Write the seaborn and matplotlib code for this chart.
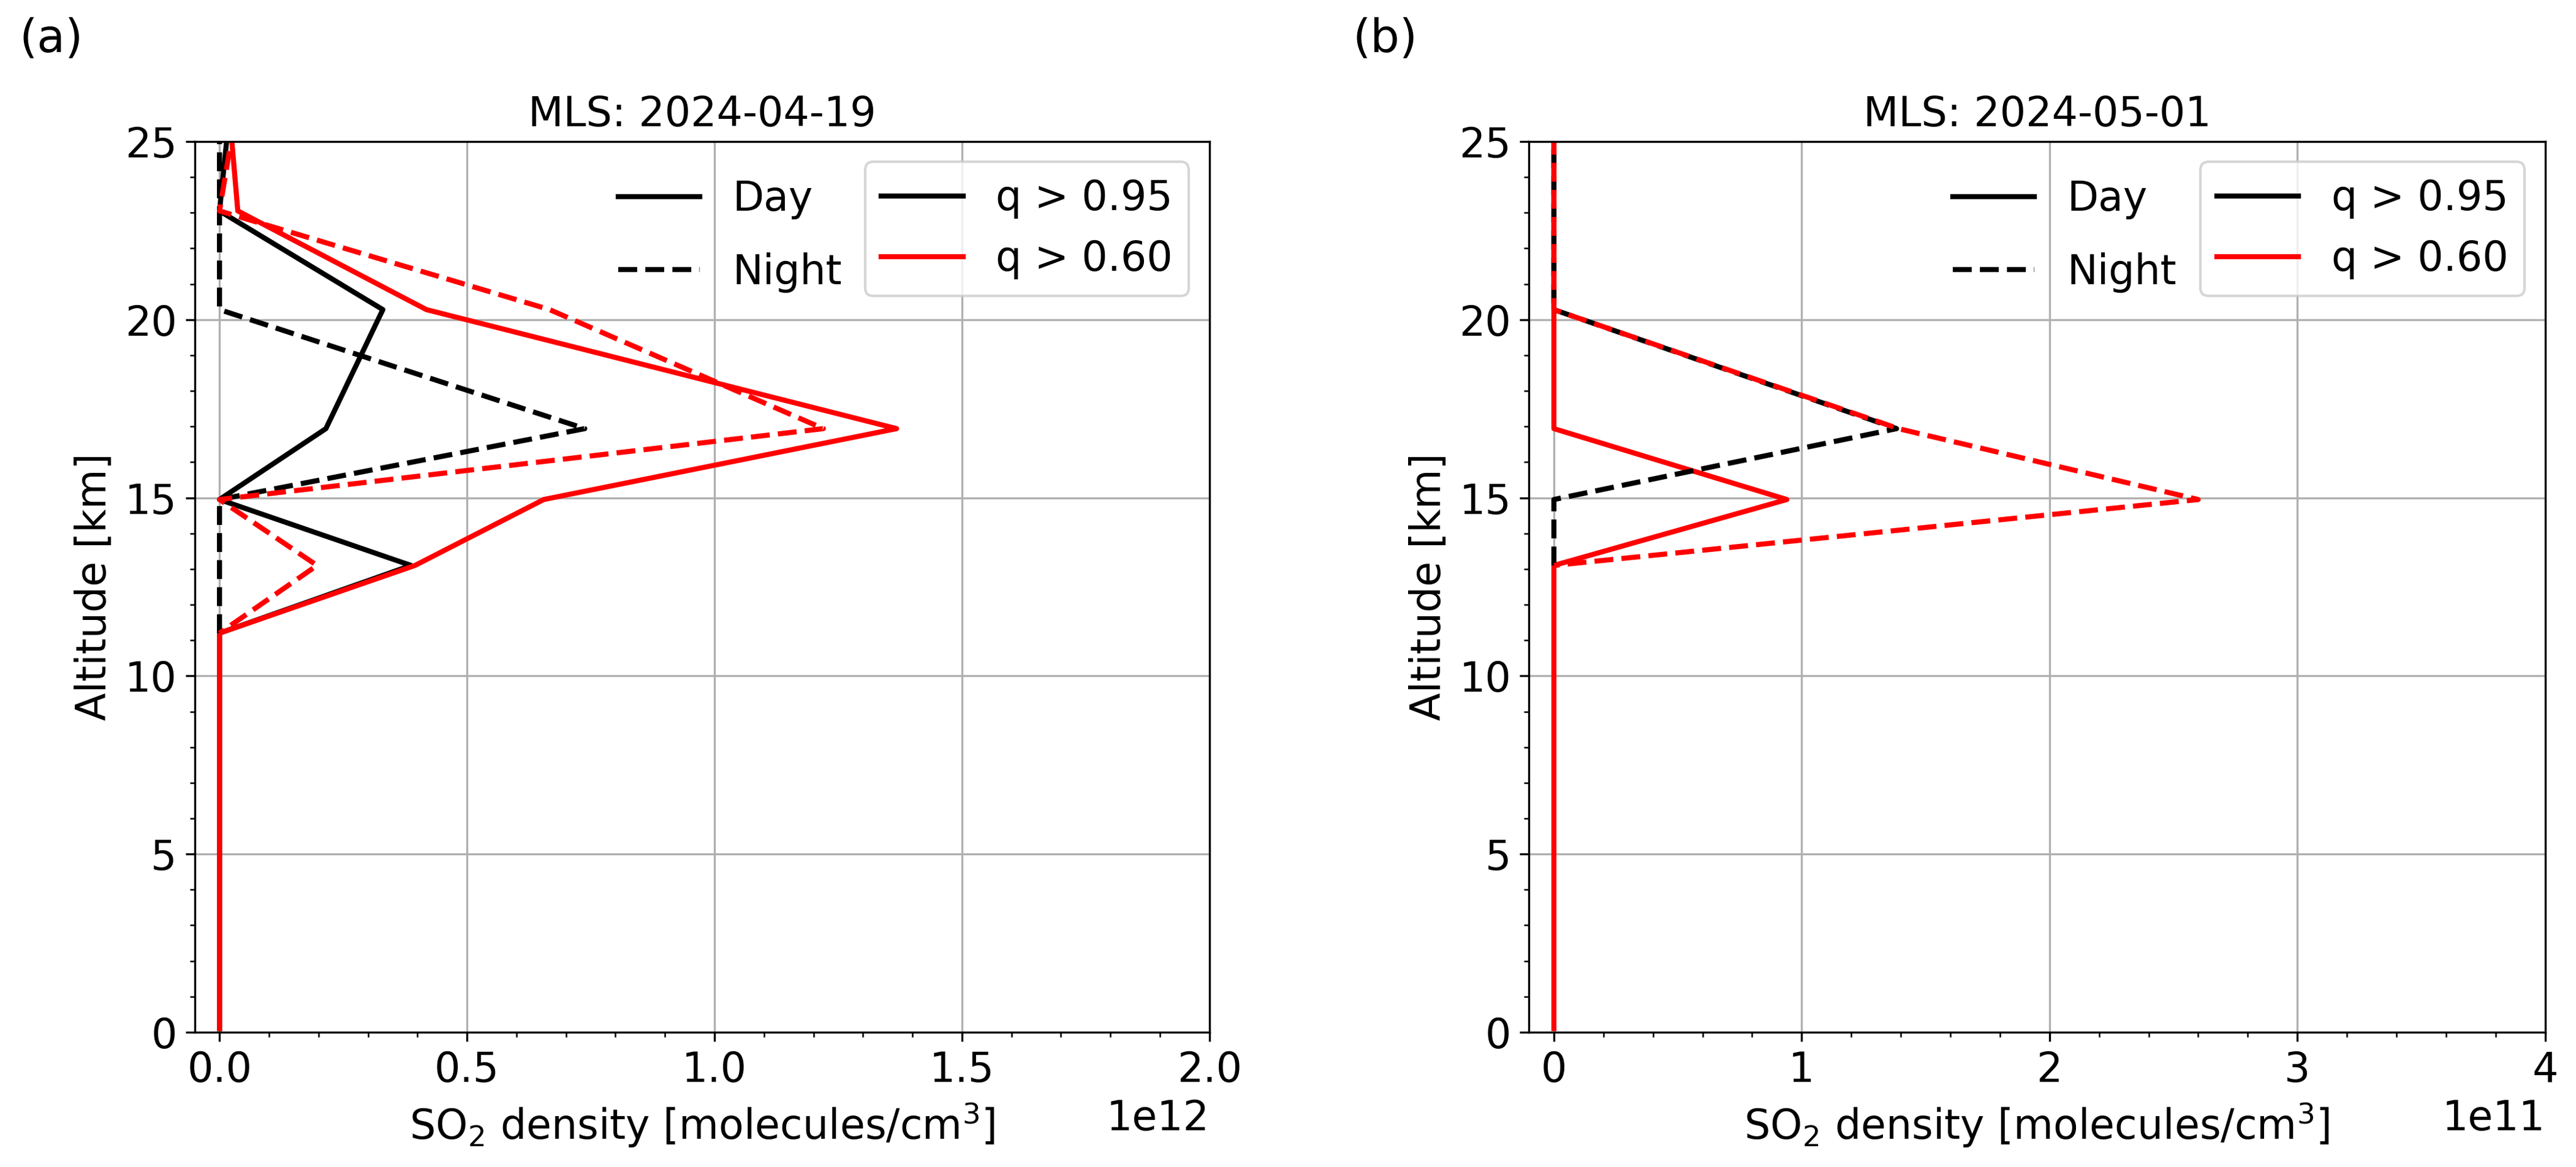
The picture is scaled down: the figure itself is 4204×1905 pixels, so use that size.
import numpy as np
import pandas as pd
import matplotlib
matplotlib.use("Agg")
import matplotlib.pyplot as plt
from matplotlib.lines import Line2D
import seaborn as sns

# altitude levels [km] of the profiles
altitude = [0.1, 11.2, 13.1, 14.95, 16.94, 20.28, 23.05, 25.9]
nan = np.nan

# (a) MLS 2024-04-19, SO2 density [molecules/cm3]
a_day_q95 = [0, 0, 0.387e12, 0, 0.215e12, 0.33e12, 0, 0.021e12]
a_night_q95 = [nan, 0, 0, 0, 0.738e12, 0, 0, 0]
a_day_q60 = [0, 0, 0.395e12, 0.655e12, 1.368e12, 0.418e12, 0.037e12, 0.0195e12]
a_night_q60 = [nan, 0, 0.197e12, 0, 1.22e12, 0.667e12, 0, 0.034e12]

# (b) MLS 2024-05-01 (no day profile passes q > 0.95)
b_day_q95 = [nan, nan, nan, nan, nan, nan, nan, nan]
b_night_q95 = [nan, nan, 0, 0, 1.383e11, 0, 0, 0]
b_day_q60 = [0, 0, 0, 0.94e11, 0, 0, 0, 0]
b_night_q60 = [nan, nan, 0, 2.6e11, 1.39e11, 0, 0, 0]

panels = [
    ("MLS: 2024-04-19", 2e12, a_day_q95, a_night_q95, a_day_q60, a_night_q60),
    ("MLS: 2024-05-01", 4e11, b_day_q95, b_night_q95, b_day_q60, b_night_q60),
]

plt.rcParams['font.size'] = 16

fig = plt.figure(figsize=(4204 / 300, 1905 / 300), dpi=300)
ax_a = fig.add_axes([0.0756, 0.1155, 0.3939, 0.7633])
ax_b = fig.add_axes([0.5936, 0.1155, 0.3944, 0.7633])

for ax, (title, xmax, day95, night95, day60, night60) in zip([ax_a, ax_b], panels):
    # day profiles first, night profiles on top
    curves = [(day95, "black", "-"), (day60, "red", "-"),
              (night95, "black", "--"), (night60, "red", (2.6, (3.7, 1.6)))]
    for vals, col, ls in curves:
        df = pd.DataFrame({"so2": vals, "alt": altitude}).dropna()
        if df.empty:
            continue
        sns.lineplot(data=df, x="so2", y="alt", sort=False, estimator=None,
                     color=col, linestyle=ls, linewidth=2, ax=ax)

    ax.set_xlim(-0.025 * xmax, xmax)
    ax.set_ylim(0, 25)
    ax.minorticks_on()
    ax.grid(True, which="major", color="#b0b0b0", linewidth=0.8)
    ax.set_axisbelow(True)
    ax.set_title(title, fontsize=16)
    ax.set_xlabel("SO$_2$ density [molecules/cm$^3$]", fontsize=16)
    ax.set_ylabel("Altitude [km]", fontsize=16)
    ax.tick_params(labelsize=16)
    ax.xaxis.get_offset_text().set_fontsize(16)

    time_handles = [Line2D([], [], color="black", ls="-", lw=2),
                    Line2D([], [], color="black", ls="--", lw=2)]
    leg1 = ax.legend(time_handles, ["Day", "Night"], loc="upper left",
                     bbox_to_anchor=(0.401, 0.976), borderaxespad=0,
                     frameon=False, fontsize=16, labelspacing=0.8)
    ax.add_artist(leg1)
    q_handles = [Line2D([], [], color="black", lw=2),
                 Line2D([], [], color="red", lw=2)]
    ax.legend(q_handles, ["q > 0.95", "q > 0.60"], loc="upper right", fontsize=16)

fig.text(32 / 4204, 1 - 28 / 1905, "(a)", fontsize=18, va="top", ha="left")
fig.text(2208 / 4204, 1 - 28 / 1905, "(b)", fontsize=18, va="top", ha="left")

fig.savefig("out.png", dpi=300)
